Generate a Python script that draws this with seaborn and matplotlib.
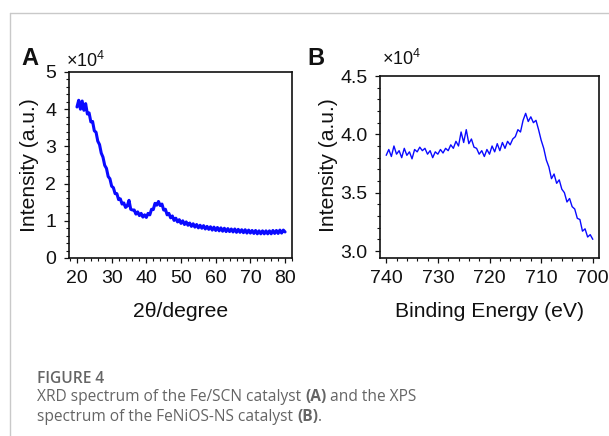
import numpy as np
import pandas as pd
import matplotlib
matplotlib.use("Agg")
import matplotlib.pyplot as plt
from matplotlib.ticker import MultipleLocator, FormatStrFormatter
from matplotlib.lines import Line2D
import seaborn as sns

# ---------------- data ----------------
# Panel A: XRD (2theta in degrees, intensity in units of 1e4)
xrd_two_theta = np.arange(20.0, 80.01, 0.5)
xrd_intensity = [
    4.06, 4.24, 4.00, 4.22, 3.97, 4.15, 3.87, 3.90, 3.66, 3.67,
    3.42, 3.38, 3.14, 3.05, 2.82, 2.71, 2.49, 2.41, 2.19, 2.13,
    1.93, 1.89, 1.73, 1.73, 1.57, 1.59, 1.45, 1.48, 1.36, 1.40,
    1.55, 1.31, 1.29, 1.29, 1.18, 1.24, 1.14, 1.20, 1.10, 1.16,
    1.09, 1.20, 1.16, 1.31, 1.30, 1.47, 1.42, 1.52, 1.41, 1.45,
    1.29, 1.31, 1.16, 1.20, 1.08, 1.13, 1.01, 1.07, 0.97, 1.03,
    0.93, 1.00, 0.90, 0.97, 0.88, 0.94, 0.85, 0.92, 0.83, 0.90,
    0.81, 0.88, 0.80, 0.87, 0.78, 0.85, 0.77, 0.84, 0.75, 0.83,
    0.74, 0.82, 0.73, 0.81, 0.72, 0.80, 0.71, 0.79, 0.71, 0.78,
    0.70, 0.78, 0.69, 0.77, 0.69, 0.76, 0.68, 0.76, 0.67, 0.75,
    0.67, 0.74, 0.66, 0.74, 0.65, 0.73, 0.65, 0.73, 0.65, 0.73,
    0.65, 0.73, 0.65, 0.74, 0.66, 0.74, 0.66, 0.75, 0.67, 0.75,
    0.70,
]

# Panel B: XPS Fe 2p (binding energy in eV, intensity in units of 1e4)
xps_energy = np.arange(740.0, 699.99, -0.5)
xps_intensity = [
    3.82, 3.87, 3.81, 3.90, 3.83, 3.86, 3.80, 3.88, 3.82, 3.85,
    3.79, 3.87, 3.85, 3.89, 3.86, 3.88, 3.83, 3.86, 3.80, 3.85,
    3.83, 3.87, 3.84, 3.88, 3.86, 3.91, 3.88, 3.94, 3.90, 4.02,
    3.93, 4.04, 3.92, 3.96, 3.89, 3.88, 3.83, 3.86, 3.81, 3.87,
    3.83, 3.90, 3.85, 3.92, 3.86, 3.93, 3.88, 3.94, 3.91, 3.96,
    3.98, 4.04, 4.02, 4.12, 4.18, 4.11, 4.15, 4.10, 4.12, 4.04,
    3.95, 3.88, 3.78, 3.72, 3.62, 3.66, 3.58, 3.61, 3.53, 3.50,
    3.42, 3.45, 3.38, 3.36, 3.28, 3.27, 3.17, 3.19, 3.12, 3.14,
    3.10,
]

a_yticks = [0, 1, 2, 3, 4, 5]
a_xticks = [20, 30, 40, 50, 60, 70, 80]
b_yticks = [3.0, 3.5, 4.0, 4.5]
b_xticks = [740, 730, 720, 710, 700]

panel_a_xlabel = "2θ/degree"
panel_b_xlabel = "Binding Energy (eV)"
ylabel = "Intensity (a.u.)"
caption_title = "FIGURE 4"

df_a = pd.DataFrame({"x": xrd_two_theta, "y": xrd_intensity})
df_b = pd.DataFrame({"x": xps_energy, "y": xps_intensity})

# ---------------- style ----------------
sns.set_style("ticks")
plt.rcParams["font.family"] = ["Liberation Sans", "DejaVu Sans"]
plt.rcParams["mathtext.fontset"] = "custom"
plt.rcParams["mathtext.rm"] = "Liberation Sans"
plt.rcParams["mathtext.it"] = "Liberation Sans:italic"
plt.rcParams["mathtext.bf"] = "Liberation Sans:bold"

W, H = 609, 436
fig = plt.figure(figsize=(W / 100, H / 100), dpi=100)
fig.patch.set_facecolor("white")


def px_axes(l, t, r, b):
    return fig.add_axes([l / W, 1 - b / H, (r - l) / W, (b - t) / H])


axA = px_axes(69, 72, 292, 258)
axB = px_axes(380, 76, 599, 258)

sns.lineplot(data=df_a, x="x", y="y", ax=axA, color="#0a0aff", lw=2.2,
             sort=False, estimator=None)
sns.lineplot(data=df_b, x="x", y="y", ax=axB, color="#0a0aff", lw=1.0,
             sort=False, estimator=None)

tick_color = "#111111"
for ax in (axA, axB):
    for s in ax.spines.values():
        s.set_linewidth(1.2)
        s.set_color("#111111")
        s.set_visible(True)
    ax.tick_params(which="major", direction="out", length=3.6, width=0.9,
                   labelsize=14, colors=tick_color)
    ax.tick_params(which="minor", direction="out", length=2.0, width=0.8,
                   colors=tick_color)
    ax.tick_params(axis="y", pad=5.5)
    ax.tick_params(axis="x", pad=5)
    ax.set_facecolor("white")

axA.set_xlim(17.7, 82.0)
axA.set_ylim(0, 5)
axA.set_xticks(a_xticks)
axA.set_yticks(a_yticks)
axA.xaxis.set_minor_locator(MultipleLocator(2))
axA.yaxis.set_minor_locator(MultipleLocator(0.2))

axB.set_xlim(741.2, 698.8)
axB.set_ylim(2.94, 4.5)
axB.set_xticks(b_xticks)
axB.set_yticks(b_yticks)
axB.yaxis.set_major_formatter(FormatStrFormatter("%.1f"))
axB.xaxis.set_minor_locator(MultipleLocator(2))
axB.yaxis.set_minor_locator(MultipleLocator(0.1))

label_kw = dict(fontsize=15.2, color=tick_color)
axA.set_xlabel(panel_a_xlabel, va="baseline", **label_kw)
axA.set_ylabel(ylabel, **label_kw)
axB.set_xlabel(panel_b_xlabel, va="baseline", **label_kw)
axB.set_ylabel(ylabel, **label_kw)
axA.yaxis.set_label_coords((39 - 69) / 223, 0.5)
axB.yaxis.set_label_coords((338 - 380) / 219, 0.511)
axA.xaxis.set_label_coords(0.5, (258 - 317) / 186)
axB.xaxis.set_label_coords(0.5, (258 - 317) / 182)

# panel letters and multipliers
fig.text(21 / W, 1 - 65 / H, "A", fontsize=17, fontweight="bold",
         color="#111111", va="baseline", ha="left")
fig.text(307 / W, 1 - 65 / H, "B", fontsize=17, fontweight="bold",
         color="#111111", va="baseline", ha="left")
fig.text(66 / W, 1 - 67 / H, r"$\mathregular{\times10^{4}}$", fontsize=13,
         color=tick_color, va="baseline", ha="left")
fig.text(382 / W, 1 - 65 / H, r"$\mathregular{\times10^{4}}$", fontsize=13,
         color=tick_color, va="baseline", ha="left")

# frame lines
frame_c = "#c9c9c9"
fig.add_artist(Line2D([10 / W, 1.0], [1 - 13 / H, 1 - 13 / H],
                      transform=fig.transFigure, color=frame_c, lw=1.0))
fig.add_artist(Line2D([10 / W, 10 / W], [0.0, 1 - 13 / H],
                      transform=fig.transFigure, color=frame_c, lw=1.0))

# caption
cap_c = "#656565"
cap_fam = ["Open Sans", "DejaVu Sans"]
cap_size = 11.2
fig.text(37 / W, 1 - 383 / H, caption_title, fontsize=cap_size,
         fontweight="semibold", family=cap_fam, color=cap_c, va="baseline")


def chain(pieces, x0, y0):
    prev = None
    for txt, bold in pieces:
        kw = dict(fontsize=cap_size, family=cap_fam, color=cap_c,
                  fontweight="bold" if bold else "normal")
        if prev is None:
            prev = fig.text(x0, y0, txt, va="baseline", ha="left", **kw)
        else:
            prev = plt.annotate(txt, xy=(1, 0), xycoords=prev, va="bottom",
                                ha="left", annotation_clip=False, **kw)


chain([("XRD spectrum of the Fe/SCN catalyst ", False), ("(A)", True),
       (" and the XPS", False)], 37 / W, 1 - 401 / H)
chain([("spectrum of the FeNiOS-NS catalyst ", False), ("(B)", True),
       (".", False)], 37 / W, 1 - 421 / H)

fig.savefig("out.png", dpi=100, facecolor="white")
